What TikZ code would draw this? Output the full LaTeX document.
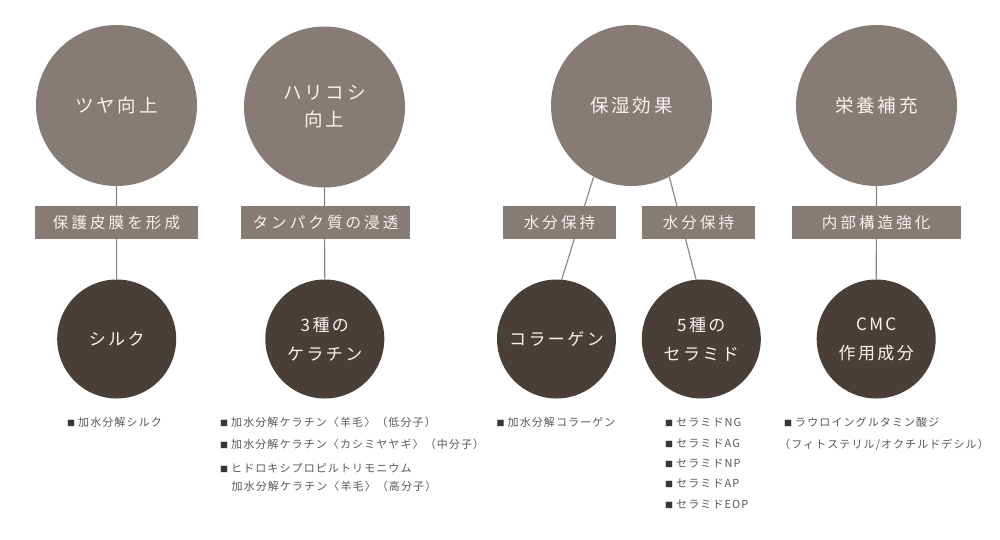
\documentclass[tikz,border=0pt]{standalone}
\usepackage{fontspec}
\setmainfont{Noto Sans CJK JP}
\newfontfamily\jpT[LetterSpace=16]{Noto Sans CJK JP}
\newfontfamily\jpB[LetterSpace=20]{Noto Sans CJK JP}
\newfontfamily\jpC[LetterSpace=14]{Noto Sans CJK JP}
\newfontfamily\jpL[LetterSpace=10]{Noto Sans CJK JP}
\usetikzlibrary{backgrounds}
\definecolor{topc}{HTML}{867B75}
\definecolor{botc}{HTML}{4A3F38}
\definecolor{linec}{HTML}{8C827D}
\definecolor{listc}{HTML}{5A5654}
\definecolor{sqc}{HTML}{3A3634}
\definecolor{txtc}{HTML}{F7F4F2}
\newcommand{\sqb}{{\color{sqc}\fontsize{8pt}{8pt}\selectfont ■}\hspace{3pt}}
\begin{document}
\begin{tikzpicture}[x=1pt,y=-1pt,
  topcirc/.style={circle, fill=topc, minimum size=161pt, inner sep=0pt, text=txtc,
    font={\jpT\fontsize{18.5pt}{27pt}\selectfont}, align=center},
  botcirc/.style={circle, fill=botc, minimum size=119pt, inner sep=0pt, text=txtc,
    font={\jpC\fontsize{17pt}{29pt}\selectfont}, align=center},
  labelbox/.style={rectangle, fill=topc, minimum height=33pt, inner sep=0pt, text=txtc,
    font={\jpB\fontsize{15.5pt}{18pt}\selectfont}},
  conn/.style={draw=linec, line width=1.1pt},
  item/.style={anchor=west, inner sep=0pt, text=listc,
    font={\jpL\fontsize{11pt}{13pt}\selectfont}}
  ]
\useasboundingbox (0,0) rectangle (1000,539);
% top circles
\node[topcirc] (t1) at (116.5,105.5) {ツヤ向上};
\node[topcirc] (t2) at (324.5,107) {ハリコシ\\向上};
\node[topcirc] (t3) at (631.5,105.5) {保湿効果};
\node[topcirc] (t4) at (876.5,105.5) {栄養補充};
% bottom circles
\node[botcirc] (c1) at (116.7,339) {シルク};
\node[botcirc] (c2) at (324.8,339) {3種の\\ケラチン};
\node[botcirc] (c3) at (556.5,339) {コラーゲン};
\node[botcirc] (c4) at (701.3,339) {5種の\\セラミド};
\node[botcirc] (c5) at (876.2,339) {CMC\\作用成分};
% connectors
\begin{scope}[on background layer]
\draw[conn] (t1.south) -- (c1.north);
\draw[conn] (t2.south) -- (c2.north);
\draw[conn] (t3.242) -- (c3.85);
\draw[conn] (t3.298) -- (c4.95);
\draw[conn] (t4.south) -- (c5.north);
\end{scope}
% label boxes
\node[labelbox, minimum width=163pt] (b1) at (116.5,222.5) {保護皮膜を形成};
\node[labelbox, minimum width=169pt] (b2) at (325.5,222.5) {タンパク質の浸透};
\node[labelbox, minimum width=113.6pt] (b3) at (559.5,222.5) {水分保持};
\node[labelbox, minimum width=113.6pt] (b4) at (698.5,222.5) {水分保持};
\node[labelbox, minimum width=169pt] (b5) at (876.2,222.5) {内部構造強化};
% lists
\node[item] (l1) at (67,422.7) {\sqb 加水分解シルク};
\node[item] (l2a) at (220,422.7) {\sqb 加水分解ケラチン〈羊毛〉（低分子）};
\node[item] (l2b) at (220,444.3) {\sqb 加水分解ケラチン〈カシミヤヤギ〉（中分子）};
\node[item] (l2c) at (220,467.7) {\sqb ヒドロキシプロピルトリモニウム};
\node[item] (l2d) at (231.5,486.7) {加水分解ケラチン〈羊毛〉（高分子）};
\node[item] (l3) at (496.5,422.7) {\sqb 加水分解コラーゲン};
\node[item] (l4a) at (665,422.7) {\sqb セラミドNG};
\node[item] (l4b) at (665,443.3) {\sqb セラミドAG};
\node[item] (l4c) at (665,463.3) {\sqb セラミドNP};
\node[item] (l4d) at (665,483.3) {\sqb セラミドAP};
\node[item] (l4e) at (665,504) {\sqb セラミドEOP};
\node[item] (l5a) at (784,422.7) {\sqb ラウロイングルタミン酸ジ};
\node[item] (l5b) at (779,445) {（フィトステリル/オクチルドデシル）};
\end{tikzpicture}
\end{document}
